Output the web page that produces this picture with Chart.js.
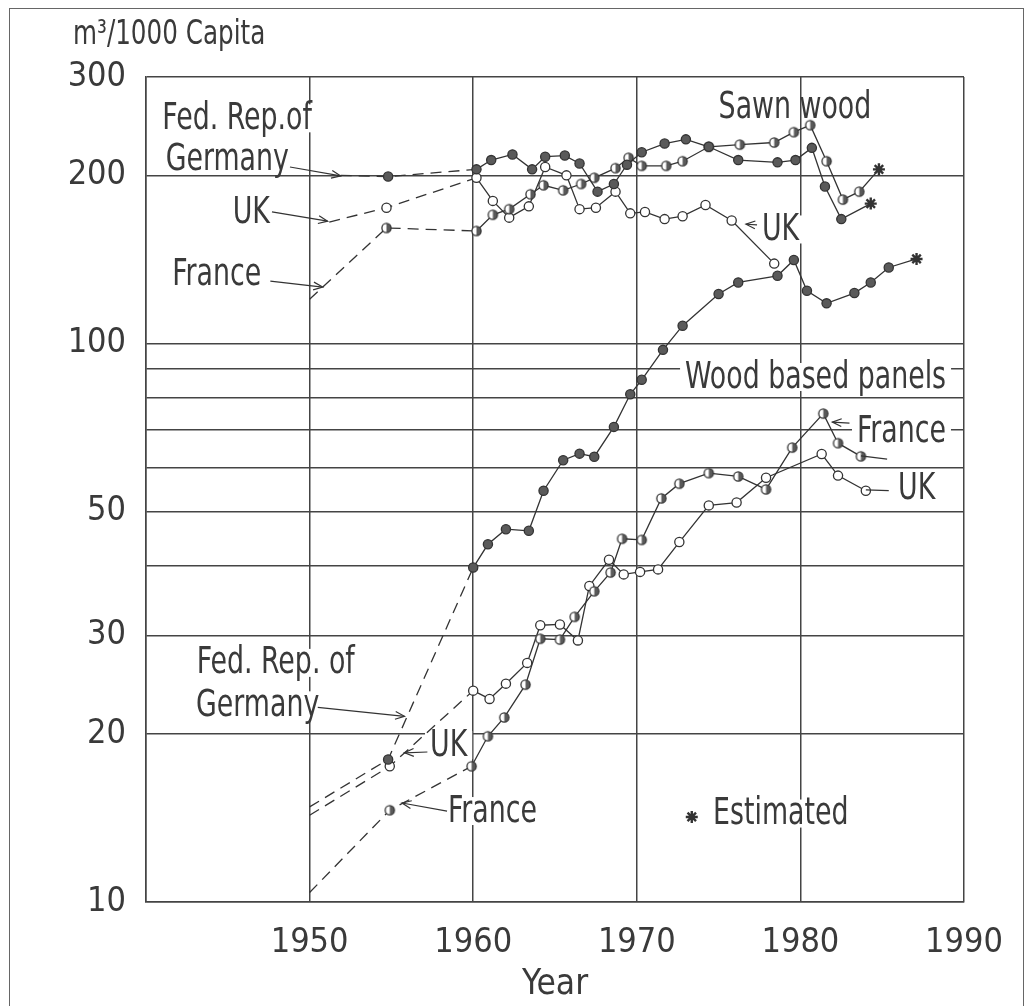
<!DOCTYPE html>
<html>
<head>
<meta charset="utf-8">
<script src="https://cdn.jsdelivr.net/npm/chart.js@4/dist/chart.umd.min.js"></script>
<style>
  html, body { margin: 0; padding: 0; background: #fff; overflow: hidden; }
  #wrap { position: relative; width: 1026px; height: 1006px; }
  #frame { position: absolute; left: 9px; top: 8px; width: 1015px; height: 1100px;
           border: 1.5px solid #666; box-sizing: border-box; pointer-events: none; }
</style>
</head>
<body>
<div id="wrap">
  <canvas id="chart" width="1026" height="1006"></canvas>
  <div id="frame"></div>
</div>
<script>
// m3 per 1000 capita (years are where the marks sit)
const xTicks = [1940, 1950, 1960, 1970, 1980, 1990];
const xLabels = [1950, 1960, 1970, 1980, 1990];
const yTicks = [10, 20, 30, 40, 50, 60, 70, 80, 90, 100, 200, 300];
const yLabels = [10, 20, 30, 50, 100, 200, 300];

// sawn wood
const swGermanyYears = [1951.9, 1954.8, 1960.2, 1961.1, 1962.4, 1963.6, 1964.4, 1965.6, 1966.5, 1967.6, 1968.6, 1969.4, 1970.3, 1971.7, 1973.0, 1974.4, 1976.2, 1978.6, 1979.7, 1980.7, 1981.5, 1982.5];
const swGermanyValues = [200, 199, 205, 213, 218, 205, 216, 217, 210, 187, 193, 209, 220, 228, 232, 225, 213, 211, 213, 224, 191, 167];
const swGermanyEst = [1984.3, 178];

const swFranceYears = [1950, 1954.7, 1960.2, 1961.2, 1962.2, 1963.5, 1964.3, 1965.5, 1966.6, 1967.4, 1968.7, 1969.5, 1970.3, 1971.8, 1972.8, 1974.4, 1976.3, 1978.4, 1979.6, 1980.6, 1981.6, 1982.6, 1983.6];
const swFranceValues = [120, 161, 159, 170, 174, 185, 192, 188, 193, 198, 206, 215, 208, 208, 212, 225, 227, 229, 239, 246, 212, 181, 187];
const swFranceEst = [1984.8, 205];

const swUkYears = [1951.2, 1954.7, 1960.2, 1961.2, 1962.2, 1963.4, 1964.4, 1965.7, 1966.5, 1967.5, 1968.7, 1969.6, 1970.5, 1971.7, 1972.8, 1974.2, 1975.8, 1978.4];
const swUkValues = [165, 175, 198, 180, 168, 176, 207, 200, 174, 175, 187, 171, 172, 167, 169, 177, 166, 139];

// wood based panels
const wpGermanyYears = [1950, 1954.8, 1960.0, 1960.9, 1962.0, 1963.4, 1964.3, 1965.5, 1966.5, 1967.4, 1968.6, 1969.6, 1970.3, 1971.6, 1972.8, 1975.0, 1976.2, 1978.6, 1979.6, 1980.4, 1981.6, 1983.3, 1984.3, 1985.4];
const wpGermanyValues = [14.8, 18.0, 39.7, 43.7, 46.5, 46.2, 54.5, 61.8, 63.5, 62.7, 70.9, 81.1, 86.1, 97.4, 107.6, 122.6, 128.6, 132.2, 141.1, 124.3, 118, 123.1, 128.6, 136.8];
const wpGermanyEst = [1987.1, 141.7];

const wpFranceYears = [1950, 1954.9, 1959.9, 1960.9, 1961.9, 1963.2, 1964.1, 1965.3, 1966.2, 1967.4, 1968.4, 1969.1, 1970.3, 1971.5, 1972.6, 1974.4, 1976.2, 1977.9, 1979.5, 1981.4, 1982.3, 1983.7];
const wpFranceValues = [10.4, 14.6, 17.5, 19.8, 21.4, 24.5, 29.6, 29.5, 32.4, 36.0, 38.9, 44.7, 44.5, 52.8, 56.1, 58.6, 57.8, 54.8, 65.1, 74.9, 66.3, 62.8];

const wpUkYears = [1950, 1954.9, 1960.0, 1961.0, 1962.0, 1963.3, 1964.1, 1965.3, 1966.4, 1967.1, 1968.3, 1969.2, 1970.2, 1971.3, 1972.6, 1974.4, 1976.1, 1977.9, 1981.3, 1982.3, 1984.0];
const wpUkValues = [14.3, 17.5, 23.9, 23.1, 24.6, 26.8, 31.3, 31.4, 29.4, 36.8, 41.0, 38.6, 39.0, 39.4, 44.1, 51.3, 51.9, 57.5, 63.4, 58.0, 54.5];

// text placed on the plot, in data coordinates
const notes = [
  { text: 'Fed. Rep.of', x: 1941.0, y: 253 },
  { text: 'Germany', x: 1941.2, y: 214 },
  { text: 'UK', x: 1945.3, y: 172 },
  { text: 'France', x: 1941.6, y: 133 },
  { text: 'Sawn wood', x: 1975.0, y: 265, box: false },
  { text: 'UK', x: 1977.65, y: 160 },
  { text: 'Wood based panels', x: 1972.95, y: 87.1 },
  { text: 'France', x: 1983.46, y: 69.7 },
  { text: 'UK', x: 1985.97, y: 55.1 },
  { text: 'Fed. Rep. of', x: 1943.1, y: 26.8 },
  { text: 'Germany', x: 1943.06, y: 22.5 },
  { text: 'UK', x: 1957.36, y: 19.1 },
  { text: 'France', x: 1958.46, y: 14.55 },
  { text: 'Estimated', x: 1974.66, y: 14.4 }
];
const estMark = [1973.36, 14.2];

// pointer lines: tail year, tail value, head year, head value, arrowhead?
const pointers = [
  [1948.8, 207, 1951.9, 199.5, true],
  [1947.7, 172, 1951.1, 165.6, true],
  [1947.6, 129.3, 1950.8, 126.2, true],
  [1977.35, 163, 1976.67, 163.5, true],
  [1983.0, 72.0, 1981.95, 72.3, true],
  [1950.5, 22.3, 1955.8, 21.5, true],
  [1957.2, 18.56, 1955.8, 18.5, true],
  [1958.4, 14.55, 1955.65, 15.04, true],
  [1984.0, 54.7, 1985.4, 54.5, false],
  [1983.7, 62.9, 1985.3, 62.1, false]
];

const INK = '#3a3a3a';
const GREY = '#5a5a5a';
const FONT = "'Liberation Sans Narrow', 'DejaVu Sans Condensed', 'Liberation Sans', sans-serif";

function halfDot() {
  const c = document.createElement('canvas');
  c.width = c.height = 13;
  const g = c.getContext('2d');
  g.beginPath(); g.arc(6.5, 6.5, 4.6, 0, Math.PI * 2); g.fillStyle = '#fff'; g.fill();
  g.beginPath(); g.moveTo(6.5, 6.5); g.arc(6.5, 6.5, 4.6, -Math.PI / 2, Math.PI / 2); g.closePath();
  g.fillStyle = GREY; g.fill();
  g.beginPath(); g.arc(6.5, 6.5, 4.6, 0, Math.PI * 2); g.lineWidth = 1.3; g.strokeStyle = '#333'; g.stroke();
  return c;
}

const FILLED = { style: 'circle', fill: GREY };
const OPEN = { style: 'circle', fill: '#fff' };
const HALF = { style: halfDot(), fill: '#fff' };

function series(label, years, values, est, marker) {
  const data = years.map((x, i) => ({ x: x, y: values[i] }));
  if (est) data.push({ x: est[0], y: est[1], est: true });
  const isEst = c => c.raw && c.raw.est;
  // the dashed runs start bare, without a mark
  const isStart = c => c.raw && c.raw.x < 1953;
  return {
    label: label,
    data: data,
    borderColor: '#333',
    borderWidth: 1.3,
    fill: false,
    tension: 0,
    pointStyle: c => isEst(c) ? 'star' : marker.style,
    pointRadius: c => isEst(c) ? 6 : isStart(c) ? 0 : 4.6,
    pointBackgroundColor: marker.fill,
    pointBorderColor: '#333',
    pointBorderWidth: c => isEst(c) ? 2.4 : 1.3,
    segment: { borderDash: c => c.p1.parsed.x <= 1960.5 ? [11, 7] : undefined }
  };
}

const arrowsAndText = {
  id: 'arrowsAndText',
  beforeDatasetsDraw(chart) {
    const { ctx, chartArea, scales: { x, y } } = chart;
    ctx.save();
    ctx.font = '37px ' + FONT;
    const squeeze = Math.min(1, 261 / ctx.measureText('Wood based panels').width);
    ctx.textBaseline = 'middle';
    notes.forEach(n => {
      const px = x.getPixelForValue(n.x), py = y.getPixelForValue(n.y);
      const w = ctx.measureText(n.text).width * squeeze;
      if (n.box !== false) {
        ctx.fillStyle = '#fff';
        ctx.fillRect(px - 5, py - 14, w + 10, 28);
      }
      ctx.save();
      ctx.translate(px, py + 1);
      ctx.scale(squeeze, 1);
      ctx.fillStyle = INK;
      ctx.fillText(n.text, 0, 0);
      ctx.restore();
    });
    // unit above the value axis
    ctx.font = '34px ' + FONT;
    ctx.save();
    ctx.translate(chartArea.left - 73, chartArea.top - 42);
    ctx.scale(squeeze, 1);
    ctx.fillStyle = INK;
    ctx.fillText('m\u00b3/1000 Capita', 0, 0);
    ctx.restore();
    ctx.restore();
  },
  afterDatasetsDraw(chart) {
    const { ctx, scales: { x, y } } = chart;
    ctx.save();
    ctx.strokeStyle = '#333';
    ctx.lineWidth = 1.2;
    pointers.forEach(p => {
      const x1 = x.getPixelForValue(p[0]), y1 = y.getPixelForValue(p[1]);
      const x2 = x.getPixelForValue(p[2]), y2 = y.getPixelForValue(p[3]);
      ctx.beginPath(); ctx.moveTo(x1, y1); ctx.lineTo(x2, y2); ctx.stroke();
      if (p[4]) {
        const a = Math.atan2(y2 - y1, x2 - x1);
        ctx.beginPath();
        ctx.moveTo(x2 - 10 * Math.cos(a - 0.4), y2 - 10 * Math.sin(a - 0.4));
        ctx.lineTo(x2, y2);
        ctx.lineTo(x2 - 10 * Math.cos(a + 0.4), y2 - 10 * Math.sin(a + 0.4));
        ctx.stroke();
      }
    });
    ctx.fillStyle = '#333';
    ctx.lineWidth = 2.4;
    Chart.helpers.drawPoint(ctx, { pointStyle: 'star', radius: 6, rotation: 0, borderWidth: 2.4 },
      x.getPixelForValue(estMark[0]), y.getPixelForValue(estMark[1]));
    ctx.restore();
  }
};

new Chart(document.getElementById('chart').getContext('2d'), {
  type: 'line',
  data: {
    datasets: [
      series('Sawn wood, Fed. Rep. of Germany', swGermanyYears, swGermanyValues, swGermanyEst, FILLED),
      series('Sawn wood, France', swFranceYears, swFranceValues, swFranceEst, HALF),
      series('Sawn wood, UK', swUkYears, swUkValues, null, OPEN),
      series('Wood based panels, Fed. Rep. of Germany', wpGermanyYears, wpGermanyValues, wpGermanyEst, FILLED),
      series('Wood based panels, France', wpFranceYears, wpFranceValues, null, HALF),
      series('Wood based panels, UK', wpUkYears, wpUkValues, null, OPEN)
    ]
  },
  options: {
    responsive: false,
    animation: false,
    devicePixelRatio: 1,
    layout: { padding: { top: 77, right: 62, left: 0, bottom: 0 } },
    plugins: { legend: { display: false }, tooltip: { enabled: false } },
    scales: {
      x: {
        type: 'linear',
        min: 1940,
        max: 1990,
        afterBuildTicks: s => { s.ticks = xTicks.map(v => ({ value: v })); },
        afterFit: s => { s.height = 104; },
        grid: { color: '#444', lineWidth: 1.5, drawTicks: false },
        border: { color: '#444', width: 1.5 },
        ticks: {
          padding: 21,
          autoSkip: false,
          maxRotation: 0,
          color: INK,
          font: { family: FONT, size: 34 },
          callback: v => xLabels.includes(v) ? String(v) : ''
        },
        title: { display: true, text: 'Year', color: INK, font: { family: FONT, size: 35 }, padding: 0 }
      },
      y: {
        type: 'logarithmic',
        min: 10,
        max: 300,
        afterBuildTicks: s => { s.ticks = yTicks.map(v => ({ value: v })); },
        afterFit: s => { s.width = 146; },
        grid: { color: '#444', lineWidth: 1.5, drawTicks: false },
        border: { color: '#444', width: 1.5 },
        ticks: {
          padding: 20,
          autoSkip: false,
          color: INK,
          font: { family: FONT, size: 34 },
          callback: v => yLabels.includes(v) ? String(v) : ''
        }
      }
    }
  },
  plugins: [arrowsAndText]
});
</script>
</body>
</html>
